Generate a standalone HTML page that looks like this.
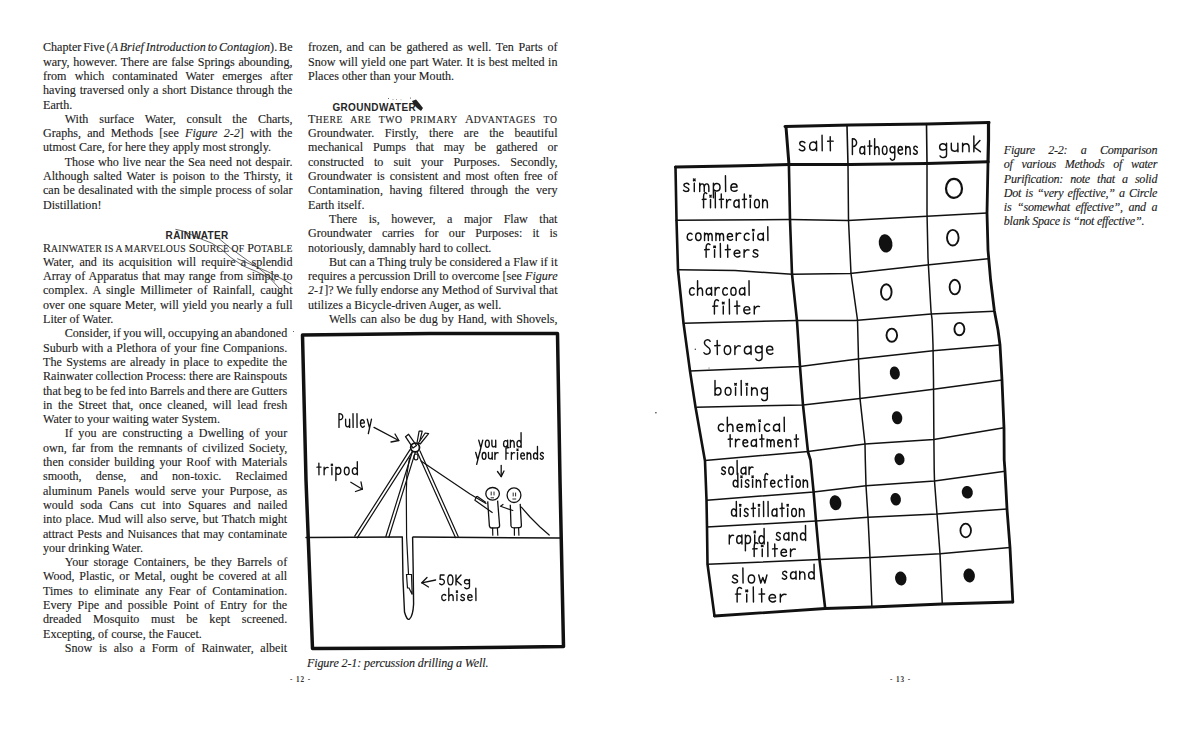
<!DOCTYPE html>
<html><head><meta charset="utf-8"><style>
html,body{margin:0;padding:0;background:#fff;}
body{width:1200px;height:729px;position:relative;overflow:hidden;}
.ln{position:absolute;font-family:"Liberation Serif",serif;font-size:12.1px;line-height:14.3px;height:14.3px;color:#222;white-space:nowrap;-webkit-text-stroke:0.12px #222;}
.j{text-align:justify;text-align-last:justify;white-space:normal;}
.l{text-align:left;}
.it{font-style:italic;}
.cap{letter-spacing:-0.25px;}
.sc small{font-size:0.8em;letter-spacing:0.02em;}
.sc2 small{font-size:0.8em;letter-spacing:0.06em;}
.hd{position:absolute;font-family:"Liberation Sans",sans-serif;font-weight:bold;font-size:10px;color:#262626;white-space:nowrap;letter-spacing:0.35px;}
.pn{position:absolute;font-family:"Liberation Serif",serif;font-size:7.2px;font-weight:bold;letter-spacing:0.9px;color:#333;white-space:nowrap;}
svg{position:absolute;left:0;top:0;}
svg text{font-family:"Liberation Sans",sans-serif;fill:#111;}
</style></head><body>
<div class="ln" style="left:43.00px;top:40.37px;word-spacing:-1.116px">Chapter Five (<i>A Brief Introduction to Contagion</i>). Be</div>
<div class="ln" style="left:43.00px;top:54.67px;word-spacing:0.721px">wary, however. There are false Springs abounding,</div>
<div class="ln" style="left:43.00px;top:68.97px;word-spacing:5.119px">from which contaminated Water emerges after</div>
<div class="ln" style="left:43.00px;top:83.27px;word-spacing:0.761px">having traversed only a short Distance through the</div>
<div class="ln" style="left:43.00px;top:97.57px">Earth.</div>
<div class="ln" style="left:64.70px;top:111.87px;word-spacing:7.773px">With surface Water, consult the Charts,</div>
<div class="ln" style="left:43.00px;top:126.17px;word-spacing:3.172px">Graphs, and Methods [see <i>Figure 2-2</i>] with the</div>
<div class="ln" style="left:43.00px;top:140.47px">utmost Care, for here they apply most strongly.</div>
<div class="ln" style="left:64.70px;top:154.77px;word-spacing:0.809px">Those who live near the Sea need not despair.</div>
<div class="ln" style="left:43.00px;top:169.07px;word-spacing:1.859px">Although salted Water is poison to the Thirsty, it</div>
<div class="ln" style="left:43.00px;top:183.37px;word-spacing:0.541px">can be desalinated with the simple process of solar</div>
<div class="ln" style="left:43.00px;top:197.67px">Distillation!</div>
<div class="ln" style="left:43.00px;top:240.57px;word-spacing:-0.133px"><span class="sc">R<small>AINWATER IS A MARVELOUS</small> S<small>OURCE OF</small> P<small>OTABLE</small></span></div>
<div class="ln" style="left:43.00px;top:254.87px;word-spacing:2.266px">Water, and its acquisition will require a splendid</div>
<div class="ln" style="left:43.00px;top:269.17px;word-spacing:0.877px">Array of Apparatus that may range from simple to</div>
<div class="ln" style="left:43.00px;top:283.47px;word-spacing:2.398px">complex. A single Millimeter of Rainfall, caught</div>
<div class="ln" style="left:43.00px;top:297.77px;word-spacing:0.760px">over one square Meter, will yield you nearly a full</div>
<div class="ln" style="left:43.00px;top:312.07px">Liter of Water.</div>
<div class="ln" style="left:64.70px;top:326.37px;word-spacing:-0.565px">Consider, if you will, occupying an abandoned</div>
<div class="ln" style="left:43.00px;top:340.67px;word-spacing:0.814px">Suburb with a Plethora of your fine Companions.</div>
<div class="ln" style="left:43.00px;top:354.97px;word-spacing:1.308px">The Systems are already in place to expedite the</div>
<div class="ln" style="left:43.00px;top:369.27px;word-spacing:-0.260px">Rainwater collection Process: there are Rainspouts</div>
<div class="ln" style="left:43.00px;top:383.57px;word-spacing:-0.363px">that beg to be fed into Barrels and there are Gutters</div>
<div class="ln" style="left:43.00px;top:397.87px;word-spacing:2.568px">in the Street that, once cleaned, will lead fresh</div>
<div class="ln" style="left:43.00px;top:412.17px">Water to your waiting water System.</div>
<div class="ln" style="left:64.70px;top:426.47px;word-spacing:2.567px">If you are constructing a Dwelling of your</div>
<div class="ln" style="left:43.00px;top:440.77px;word-spacing:1.846px">own, far from the remnants of civilized Society,</div>
<div class="ln" style="left:43.00px;top:455.07px;word-spacing:1.736px">then consider building your Roof with Materials</div>
<div class="ln" style="left:43.00px;top:469.37px;word-spacing:11.089px">smooth, dense, and non-toxic. Reclaimed</div>
<div class="ln" style="left:43.00px;top:483.67px;word-spacing:2.575px">aluminum Panels would serve your Purpose, as</div>
<div class="ln" style="left:43.00px;top:497.97px;word-spacing:3.935px">would soda Cans cut into Squares and nailed</div>
<div class="ln" style="left:43.00px;top:512.27px;word-spacing:0.744px">into place. Mud will also serve, but Thatch might</div>
<div class="ln" style="left:43.00px;top:526.57px;word-spacing:0.958px">attract Pests and Nuisances that may contaminate</div>
<div class="ln" style="left:43.00px;top:540.87px">your drinking Water.</div>
<div class="ln" style="left:64.70px;top:555.17px;word-spacing:2.188px">Your storage Containers, be they Barrels of</div>
<div class="ln" style="left:43.00px;top:569.47px;word-spacing:1.720px">Wood, Plastic, or Metal, ought be covered at all</div>
<div class="ln" style="left:43.00px;top:583.77px;word-spacing:2.986px">Times to eliminate any Fear of Contamination.</div>
<div class="ln" style="left:43.00px;top:598.07px;word-spacing:2.646px">Every Pipe and possible Point of Entry for the</div>
<div class="ln" style="left:43.00px;top:612.37px;word-spacing:8.671px">dreaded Mosquito must be kept screened.</div>
<div class="ln" style="left:43.00px;top:626.67px">Excepting, of course, the Faucet.</div>
<div class="ln" style="left:64.70px;top:640.97px;word-spacing:3.641px">Snow is also a Form of Rainwater, albeit</div>
<div class="ln" style="left:308.00px;top:40.37px;word-spacing:1.686px">frozen, and can be gathered as well. Ten Parts of</div>
<div class="ln" style="left:308.00px;top:54.67px;word-spacing:0.448px">Snow will yield one part Water. It is best melted in</div>
<div class="ln" style="left:308.00px;top:68.97px">Places other than your Mouth.</div>
<div class="ln" style="left:308.00px;top:111.87px;word-spacing:4.734px"><span class="sc2">T<small>HERE ARE TWO PRIMARY</small> A<small>DVANTAGES TO</small></span></div>
<div class="ln" style="left:308.00px;top:126.17px;word-spacing:7.541px">Groundwater. Firstly, there are the beautiful</div>
<div class="ln" style="left:308.00px;top:140.47px;word-spacing:6.880px">mechanical Pumps that may be gathered or</div>
<div class="ln" style="left:308.00px;top:154.77px;word-spacing:7.128px">constructed to suit your Purposes. Secondly,</div>
<div class="ln" style="left:308.00px;top:169.07px;word-spacing:1.913px">Groundwater is consistent and most often free of</div>
<div class="ln" style="left:308.00px;top:183.37px;word-spacing:3.550px">Contamination, having filtered through the very</div>
<div class="ln" style="left:308.00px;top:197.67px">Earth itself.</div>
<div class="ln" style="left:329.00px;top:211.97px;word-spacing:8.497px">There is, however, a major Flaw that</div>
<div class="ln" style="left:308.00px;top:226.27px;word-spacing:7.214px">Groundwater carries for our Purposes: it is</div>
<div class="ln" style="left:308.00px;top:240.57px">notoriously, damnably hard to collect.</div>
<div class="ln" style="left:329.00px;top:254.87px;word-spacing:-0.034px">But can a Thing truly be considered a Flaw if it</div>
<div class="ln" style="left:308.00px;top:269.17px;word-spacing:0.060px">requires a percussion Drill to overcome [see <i>Figure</i></div>
<div class="ln" style="left:308.00px;top:283.47px;word-spacing:-0.066px"><i>2-1</i>]? We fully endorse any Method of Survival that</div>
<div class="ln" style="left:308.00px;top:297.77px">utilizes a Bicycle-driven Auger, as well.</div>
<div class="ln" style="left:329.00px;top:312.07px;word-spacing:0.889px">Wells can also be dug by Hand, with Shovels,</div>
<div class="ln it cap" style="left:1003.80px;top:142.97px;word-spacing:10.618px">Figure 2-2: a Comparison</div>
<div class="ln it cap" style="left:1003.80px;top:157.27px;word-spacing:5.940px">of various Methods of water</div>
<div class="ln it cap" style="left:1003.80px;top:171.57px;word-spacing:4.342px">Purification: note that a solid</div>
<div class="ln it cap" style="left:1003.80px;top:185.87px;word-spacing:1.386px">Dot is “very effective,” a Circle</div>
<div class="ln it cap" style="left:1003.80px;top:200.17px;word-spacing:2.854px">is “somewhat effective”, and a</div>
<div class="ln it cap" style="left:1003.80px;top:214.47px">blank Space is “not effective”.</div>


<div class="hd" style="left:165.6px;top:230px;">RAINWATER</div>
<div class="hd" style="left:332.4px;top:101.8px;">GROUNDWATER</div>
<div class="ln l it" style="left:306.9px;top:655.97px;letter-spacing:-0.12px">Figure 2-1: percussion drilling a Well.</div>
<div class="pn" style="left:290px;top:675.5px;">- 12 -</div>
<div class="pn" style="left:890px;top:675.5px;">- 13 -</div>
<svg width="1200" height="729" viewBox="0 0 1200 729">
<polyline points="785,126.5 850,125 927,124 989,122.5" fill="none" stroke="#111" stroke-width="3" stroke-linejoin="round" stroke-linecap="round"/><polyline points="786,127 787.5,146 789,165" fill="none" stroke="#111" stroke-width="3" stroke-linejoin="round" stroke-linecap="round"/><polyline points="988.5,122.5 988.5,140 988,162" fill="none" stroke="#111" stroke-width="3.2" stroke-linejoin="round" stroke-linecap="round"/><polyline points="675.5,167 730,166 789,164.6 850,164.5 927,163.5 988,161.8" fill="none" stroke="#111" stroke-width="3" stroke-linejoin="round" stroke-linecap="round"/><polyline points="847,126 848,165" fill="none" stroke="#111" stroke-width="1.6" stroke-linejoin="round" stroke-linecap="round"/><polyline points="926.5,124 927,163" fill="none" stroke="#111" stroke-width="1.6" stroke-linejoin="round" stroke-linecap="round"/><polyline points="675.5,167 676.5,220 678,270 683.5,323 690,371 695.5,407 705,461 706.5,500 707,527 707.5,564 714.5,616" fill="none" stroke="#111" stroke-width="2.6" stroke-linejoin="round" stroke-linecap="round"/><polyline points="788.9,164.6 790,219.5 792,274 797,321 800,366.6 803,405 808,452 810.5,460 813.6,492 816,521 819.5,559.6 825.2,608.5" fill="none" stroke="#111" stroke-width="2.6" stroke-linejoin="round" stroke-linecap="round"/><polyline points="848,165 848.5,220 851,273.5 857.5,320 858.5,359 860,398.6 865,444 865.3,460 866,485.7 868,517 870,557.5 871.9,607" fill="none" stroke="#111" stroke-width="1.5" stroke-linejoin="round" stroke-linecap="round"/><polyline points="927,163 927,213 928,258 931,311 932.1,320 933,345 933.5,380 933.8,428 934.2,470 934.5,481 937,514 940,553.8 942.3,604" fill="none" stroke="#111" stroke-width="1.5" stroke-linejoin="round" stroke-linecap="round"/><polyline points="988,162 987,213 988,250 990.6,280 994.4,311 998,330 1000,345 1002,380 1004,428 1004.2,460 1005,471 1007,509 1010,547.5 1012.8,602" fill="none" stroke="#111" stroke-width="2.8" stroke-linejoin="round" stroke-linecap="round"/><polyline points="676,220.2 790,219.5 848,220.4 927,216.2 987,213" fill="none" stroke="#111" stroke-width="1.5" stroke-linejoin="round" stroke-linecap="round"/><polyline points="678,269.7 735,270.5 792,274.3 850,273.5 927,265 988,258.7" fill="none" stroke="#111" stroke-width="1.5" stroke-linejoin="round" stroke-linecap="round"/><polyline points="683.5,323.3 797,320.5 855,320.5 931,314 994.4,311.2" fill="none" stroke="#111" stroke-width="1.5" stroke-linejoin="round" stroke-linecap="round"/><polyline points="690,371 800,366.6 858,359 933,350.8 1000,345" fill="none" stroke="#111" stroke-width="1.5" stroke-linejoin="round" stroke-linecap="round"/><polyline points="695.5,407.2 803,405 860,398.6 933.5,389.3 1002,380" fill="none" stroke="#111" stroke-width="1.5" stroke-linejoin="round" stroke-linecap="round"/><polyline points="705,460.5 808,451.5 865,444 933.8,439.4 1004,427.7" fill="none" stroke="#111" stroke-width="1.5" stroke-linejoin="round" stroke-linecap="round"/><polyline points="706.8,500.2 813.6,492 866,485.7 934.5,481 1005,471.2" fill="none" stroke="#111" stroke-width="1.5" stroke-linejoin="round" stroke-linecap="round"/><polyline points="706.8,527 816,521 868,517.2 937,514.1 1007,509" fill="none" stroke="#111" stroke-width="1.5" stroke-linejoin="round" stroke-linecap="round"/><polyline points="707.5,564.3 819.5,559.6 870,557.5 940,553.8 1010,547.5" fill="none" stroke="#111" stroke-width="1.5" stroke-linejoin="round" stroke-linecap="round"/><polyline points="714.5,616 825.2,608.5 871.9,607 942.3,604 1012.8,602" fill="none" stroke="#111" stroke-width="2.8" stroke-linejoin="round" stroke-linecap="round"/>
<ellipse cx="954" cy="188.4" rx="8" ry="9.5" fill="none" stroke="#111" stroke-width="2.2"/><ellipse cx="885.6" cy="243.4" rx="6.8" ry="9.2" fill="#111" transform="rotate(-10 885.6 243.4)"/><ellipse cx="952.8" cy="237.7" rx="5.8" ry="7.8" fill="none" stroke="#111" stroke-width="1.9"/><ellipse cx="886.3" cy="292" rx="5.3" ry="7.8" fill="none" stroke="#111" stroke-width="1.9"/><ellipse cx="954.8" cy="287.1" rx="5.2" ry="7.3" fill="none" stroke="#111" stroke-width="1.9"/><ellipse cx="891.8" cy="335.2" rx="5.3" ry="6.6" fill="none" stroke="#111" stroke-width="1.9"/><ellipse cx="959.4" cy="329.1" rx="5" ry="6.2" fill="none" stroke="#111" stroke-width="1.9"/><ellipse cx="894.8" cy="373" rx="5" ry="6.6" fill="#111" transform="rotate(-10 894.8 373)"/><ellipse cx="897.1" cy="417.7" rx="5.2" ry="6.6" fill="#111" transform="rotate(-10 897.1 417.7)"/><ellipse cx="899.5" cy="459.2" rx="5" ry="6" fill="#111" transform="rotate(-10 899.5 459.2)"/><ellipse cx="835.5" cy="502.7" rx="5.8" ry="7.5" fill="#111" transform="rotate(-10 835.5 502.7)"/><ellipse cx="895.7" cy="499.2" rx="5.2" ry="6.3" fill="#111" transform="rotate(-10 895.7 499.2)"/><ellipse cx="967.3" cy="492.2" rx="5.5" ry="6.3" fill="#111" transform="rotate(-10 967.3 492.2)"/><ellipse cx="965.7" cy="530.5" rx="5.3" ry="6.8" fill="none" stroke="#111" stroke-width="1.8"/><ellipse cx="900.8" cy="578.5" rx="5.7" ry="7" fill="#111" transform="rotate(-10 900.8 578.5)"/><ellipse cx="969.2" cy="575.5" rx="5.7" ry="7" fill="#111" transform="rotate(-10 969.2 575.5)"/>
<path d="M 804.88,142.73 C 803.59,140.92 799.73,140.92 799.73,143.68 C 799.73,146.53 804.88,145.58 804.88,148.43 C 804.88,151.28 800.59,151.28 799.30,149.38 M 816.46,144.15 C 814.75,140.92 809.60,141.30 809.60,146.53 C 809.60,151.28 814.75,151.28 816.46,147.48 M 816.46,141.30 L 816.64,150.80 M 822.04,135.22 L 822.21,150.80 M 830.20,136.74 L 830.37,150.80 M 827.62,141.30 L 833.20,141.15" fill="none" stroke="#111" stroke-width="1.45" stroke-linecap="round" stroke-linejoin="round"/><path d="M 852.40,154.40 L 852.40,138.80 C 858.03,138.34 858.03,147.34 852.40,146.52 M 864.55,148.59 C 863.37,145.64 859.81,146.10 859.81,150.66 C 859.81,154.81 863.37,154.81 864.55,151.50 M 864.55,146.10 L 864.67,154.40 M 869.59,140.62 L 869.71,154.40 M 867.81,146.10 L 871.66,145.92 M 874.63,138.80 L 874.63,154.40 M 874.63,149.42 C 875.81,145.64 879.07,145.64 879.07,150.25 L 879.07,154.40 M 884.70,146.10 C 887.79,146.10 887.79,154.40 884.70,154.40 C 881.62,154.40 881.62,146.10 884.70,146.10 Z M 894.78,149.42 C 893.59,145.19 890.04,146.10 890.04,149.84 C 890.04,153.57 893.59,153.57 894.78,151.08 M 894.78,146.10 L 894.78,157.31 C 894.78,160.62 891.22,161.04 890.33,158.55 M 898.16,150.25 L 902.49,149.84 C 902.49,145.64 898.04,145.19 898.04,150.25 C 898.04,154.81 901.30,154.81 902.49,153.16 M 905.75,146.10 L 905.75,154.40 M 905.75,149.42 C 906.63,145.64 910.19,145.64 910.19,150.25 L 910.19,154.40 M 917.30,147.34 C 916.41,145.64 913.75,145.64 913.75,148.18 C 913.75,150.66 917.30,149.84 917.30,152.33 C 917.30,154.81 914.34,154.81 913.45,153.16" fill="none" stroke="#111" stroke-width="1.45" stroke-linecap="round" stroke-linejoin="round"/><path d="M 946.54,146.60 C 944.80,142.30 939.60,143.20 939.60,147.02 C 939.60,150.85 944.80,150.85 946.54,148.30 M 946.54,143.20 L 946.54,154.67 C 946.54,158.07 941.33,158.50 940.03,155.95 M 951.31,143.20 L 951.31,148.30 C 951.31,152.12 957.38,152.12 957.81,148.72 M 957.81,143.20 L 957.99,151.70 M 962.59,143.20 L 962.59,151.70 M 962.59,146.60 C 963.89,142.75 969.09,142.75 969.09,147.45 L 969.09,151.70 M 973.86,135.99 L 973.86,151.70 M 979.93,140.50 L 974.03,147.02 L 980.37,151.70" fill="none" stroke="#111" stroke-width="1.45" stroke-linecap="round" stroke-linejoin="round"/><path d="M 688.90,184.53 C 687.65,182.83 683.92,182.83 683.92,185.35 C 683.92,187.81 688.90,186.99 688.90,189.45 C 688.90,191.91 684.75,191.91 683.50,190.27 M 694.30,183.30 L 694.30,191.50 M 693.47,179.06 L 695.13,180.66 M 695.13,179.06 L 693.47,180.66 M 699.70,183.30 L 699.70,191.50 M 699.70,186.58 C 700.53,182.83 704.27,182.83 704.27,187.40 L 704.27,191.50 M 704.27,186.58 C 705.10,182.83 708.84,182.83 708.84,187.40 L 708.84,191.50 M 713.41,183.30 L 713.41,197.65 M 713.41,186.58 C 714.24,182.36 720.05,182.36 720.05,187.40 C 720.05,191.91 714.24,191.91 713.41,189.04 M 725.45,175.76 L 725.62,191.50 M 731.02,187.40 L 737.08,186.99 C 737.08,182.83 730.85,182.36 730.85,187.40 C 730.85,191.91 735.42,191.91 737.08,190.27" fill="none" stroke="#111" stroke-width="1.45" stroke-linecap="round" stroke-linejoin="round"/><path d="M 706.72,193.57 C 705.14,191.74 703.56,192.65 703.56,196.76 L 703.56,207.80 M 702.30,199.50 L 706.09,199.32 M 710.51,199.50 L 710.51,207.80 M 709.88,195.39 L 711.15,196.94 M 711.15,195.39 L 709.88,196.94 M 715.25,192.20 L 715.38,207.80 M 721.26,194.02 L 721.38,207.80 M 719.36,199.50 L 723.47,199.32 M 726.63,199.50 L 726.63,207.80 M 726.63,203.24 C 727.58,199.92 729.16,199.04 730.73,199.92 M 738.95,201.99 C 737.69,199.04 733.89,199.50 733.89,204.06 C 733.89,208.22 737.69,208.22 738.95,204.90 M 738.95,199.50 L 739.08,207.80 M 744.32,194.02 L 744.45,207.80 M 742.42,199.50 L 746.53,199.32 M 750.32,199.50 L 750.32,207.80 M 749.69,195.39 L 750.96,196.94 M 750.96,195.39 L 749.69,196.94 M 756.96,199.50 C 760.24,199.50 760.24,207.80 756.96,207.80 C 753.67,207.80 753.67,199.50 756.96,199.50 Z M 762.64,199.50 L 762.64,207.80 M 762.64,202.82 C 763.59,199.04 767.38,199.04 767.38,203.65 L 767.38,207.80" fill="none" stroke="#111" stroke-width="1.45" stroke-linecap="round" stroke-linejoin="round"/><path d="M 692.02,234.12 C 690.65,232.61 687.20,233.00 687.20,236.75 C 687.20,240.88 690.65,240.88 692.02,239.38 M 698.36,233.00 C 701.95,233.00 701.95,240.50 698.36,240.50 C 694.78,240.50 694.78,233.00 698.36,233.00 Z M 704.57,233.00 L 704.57,240.50 M 704.57,236.00 C 705.26,232.61 708.36,232.61 708.36,236.75 L 708.36,240.50 M 708.36,236.00 C 709.05,232.61 712.15,232.61 712.15,236.75 L 712.15,240.50 M 715.94,233.00 L 715.94,240.50 M 715.94,236.00 C 716.63,232.61 719.73,232.61 719.73,236.75 L 719.73,240.50 M 719.73,236.00 C 720.42,232.61 723.52,232.61 723.52,236.75 L 723.52,240.50 M 727.45,236.75 L 732.48,236.38 C 732.48,232.61 727.31,232.21 727.31,236.75 C 727.31,240.88 731.10,240.88 732.48,239.38 M 736.27,233.00 L 736.27,240.50 M 736.27,236.38 C 737.30,233.38 739.03,232.61 740.75,233.38 M 749.02,234.12 C 747.64,232.61 744.20,233.00 744.20,236.75 C 744.20,240.88 747.64,240.88 749.02,239.38 M 753.29,233.00 L 753.29,240.50 M 752.60,229.46 L 753.98,230.79 M 753.98,229.46 L 752.60,230.79 M 763.29,235.25 C 761.91,232.61 757.77,233.00 757.77,237.12 C 757.77,240.88 761.91,240.88 763.29,237.88 M 763.29,233.00 L 763.42,240.50 M 767.77,226.70 L 767.90,240.50" fill="none" stroke="#111" stroke-width="1.45" stroke-linecap="round" stroke-linejoin="round"/><path d="M 709.97,244.58 C 708.05,243.01 706.13,243.79 706.13,247.34 L 706.13,257.20 M 704.60,249.70 L 709.20,249.54 M 714.57,249.70 L 714.57,257.20 M 713.81,246.16 L 715.34,247.49 M 715.34,246.16 L 713.81,247.49 M 720.33,243.40 L 720.48,257.20 M 727.61,244.97 L 727.77,257.20 M 725.31,249.70 L 730.30,249.54 M 734.29,253.45 L 739.89,253.07 C 739.89,249.31 734.13,248.91 734.13,253.45 C 734.13,257.57 738.35,257.57 739.89,256.07 M 744.11,249.70 L 744.11,257.20 M 744.11,253.07 C 745.26,250.07 747.18,249.31 749.09,250.07 M 757.92,250.82 C 756.77,249.31 753.31,249.31 753.31,251.57 C 753.31,253.82 757.92,253.07 757.92,255.32 C 757.92,257.57 754.08,257.57 752.93,256.07" fill="none" stroke="#111" stroke-width="1.45" stroke-linecap="round" stroke-linejoin="round"/><path d="M 694.13,288.67 C 692.81,287.07 689.50,287.50 689.50,291.40 C 689.50,295.69 692.81,295.69 694.13,294.13 M 697.58,280.64 L 697.58,295.30 M 697.58,290.62 C 698.90,287.07 702.54,287.07 702.54,291.40 L 702.54,295.30 M 711.48,289.84 C 710.15,287.07 706.18,287.50 706.18,291.79 C 706.18,295.69 710.15,295.69 711.48,292.57 M 711.48,287.50 L 711.61,295.30 M 715.12,287.50 L 715.12,295.30 M 715.12,291.01 C 716.11,287.89 717.76,287.07 719.42,287.89 M 727.36,288.67 C 726.04,287.07 722.73,287.50 722.73,291.40 C 722.73,295.69 726.04,295.69 727.36,294.13 M 733.45,287.50 C 736.89,287.50 736.89,295.30 733.45,295.30 C 730.01,295.30 730.01,287.50 733.45,287.50 Z M 744.70,289.84 C 743.38,287.07 739.41,287.50 739.41,291.79 C 739.41,295.69 743.38,295.69 744.70,292.57 M 744.70,287.50 L 744.84,295.30 M 749.01,280.64 L 749.14,295.30" fill="none" stroke="#111" stroke-width="1.45" stroke-linecap="round" stroke-linejoin="round"/><path d="M 718.44,300.62 C 716.42,298.91 714.41,299.76 714.41,303.63 L 714.41,314.00 M 712.80,306.20 L 717.63,306.03 M 723.27,306.20 L 723.27,314.00 M 722.46,302.34 L 724.07,303.80 M 724.07,302.34 L 722.46,303.80 M 729.31,299.34 L 729.47,314.00 M 736.96,301.05 L 737.12,314.00 M 734.54,306.20 L 739.77,306.03 M 743.96,310.10 L 749.84,309.71 C 749.84,305.77 743.80,305.34 743.80,310.10 C 743.80,314.39 748.23,314.39 749.84,312.83 M 754.27,306.20 L 754.27,314.00 M 754.27,309.71 C 755.47,306.59 757.49,305.77 759.50,306.59" fill="none" stroke="#111" stroke-width="1.45" stroke-linecap="round" stroke-linejoin="round"/><path d="M 710.18,341.30 C 708.94,339.10 704.41,339.10 704.41,343.06 C 704.41,347.02 710.18,346.14 710.18,350.54 C 710.18,354.94 705.24,354.94 704.00,352.74 M 717.18,340.42 L 717.35,354.50 M 714.71,345.70 L 720.06,345.52 M 727.48,345.70 C 731.76,345.70 731.76,354.50 727.48,354.50 C 723.19,354.50 723.19,345.70 727.48,345.70 Z M 734.89,345.70 L 734.89,354.50 M 734.89,349.66 C 736.13,346.14 738.19,345.26 740.25,346.14 M 750.96,348.34 C 749.31,345.26 744.37,345.70 744.37,350.54 C 744.37,354.94 749.31,354.94 750.96,351.42 M 750.96,345.70 L 751.12,354.50 M 762.08,349.22 C 760.43,344.82 755.49,345.70 755.49,349.66 C 755.49,353.62 760.43,353.62 762.08,350.98 M 762.08,345.70 L 762.08,357.58 C 762.08,361.10 757.14,361.54 755.90,358.90 M 766.77,350.10 L 772.79,349.66 C 772.79,345.26 766.61,344.82 766.61,350.10 C 766.61,354.94 771.14,354.94 772.79,353.18" fill="none" stroke="#111" stroke-width="1.45" stroke-linecap="round" stroke-linejoin="round"/><path d="M 715.00,380.54 L 715.00,395.20 M 715.00,391.30 C 715.75,386.54 720.98,386.54 720.98,391.30 C 720.98,395.98 715.75,395.98 715.00,392.86 M 728.08,387.40 C 731.97,387.40 731.97,395.20 728.08,395.20 C 724.19,395.20 724.19,387.40 728.08,387.40 Z M 735.56,387.40 L 735.56,395.20 M 734.81,383.54 L 736.30,385.00 M 736.30,383.54 L 734.81,385.00 M 741.16,380.54 L 741.31,395.20 M 746.77,387.40 L 746.77,395.20 M 746.02,383.54 L 747.52,385.00 M 747.52,383.54 L 746.02,385.00 M 751.63,387.40 L 751.63,395.20 M 751.63,390.52 C 752.75,386.97 757.23,386.97 757.23,391.30 L 757.23,395.20 M 767.33,390.52 C 765.83,386.54 761.35,387.40 761.35,390.91 C 761.35,394.42 765.83,394.42 767.33,392.08 M 767.33,387.40 L 767.33,397.93 C 767.33,401.05 762.84,401.44 761.72,399.10" fill="none" stroke="#111" stroke-width="1.45" stroke-linecap="round" stroke-linejoin="round"/><path d="M 723.49,424.94 C 722.01,423.38 718.30,423.80 718.30,427.60 C 718.30,431.78 722.01,431.78 723.49,430.26 M 727.34,417.11 L 727.34,431.40 M 727.34,426.84 C 728.82,423.38 732.90,423.38 732.90,427.60 L 732.90,431.40 M 737.13,427.60 L 742.54,427.22 C 742.54,423.38 736.98,422.96 736.98,427.60 C 736.98,431.78 741.05,431.78 742.54,430.26 M 746.61,423.80 L 746.61,431.40 M 746.61,426.84 C 747.35,423.38 750.69,423.38 750.69,427.60 L 750.69,431.40 M 750.69,426.84 C 751.43,423.38 754.76,423.38 754.76,427.60 L 754.76,431.40 M 759.58,423.80 L 759.58,431.40 M 758.84,420.04 L 760.32,421.46 M 760.32,420.04 L 758.84,421.46 M 769.59,424.94 C 768.11,423.38 764.40,423.80 764.40,427.60 C 764.40,431.78 768.11,431.78 769.59,430.26 M 779.37,426.08 C 777.89,423.38 773.44,423.80 773.44,427.98 C 773.44,431.78 777.89,431.78 779.37,428.74 M 779.37,423.80 L 779.52,431.40 M 784.19,417.11 L 784.34,431.40" fill="none" stroke="#111" stroke-width="1.45" stroke-linecap="round" stroke-linejoin="round"/><path d="M 730.12,434.64 L 730.25,446.80 M 728.20,439.20 L 732.35,439.05 M 735.55,439.20 L 735.55,446.80 M 735.55,442.62 C 736.51,439.58 738.11,438.82 739.70,439.58 M 743.03,443.00 L 747.69,442.62 C 747.69,438.82 742.90,438.44 742.90,443.00 C 742.90,447.18 746.41,447.18 747.69,445.66 M 756.32,441.48 C 755.04,438.82 751.21,439.20 751.21,443.38 C 751.21,447.18 755.04,447.18 756.32,444.14 M 756.32,439.20 L 756.45,446.80 M 761.75,434.64 L 761.88,446.80 M 759.84,439.20 L 763.99,439.05 M 767.18,439.20 L 767.18,446.80 M 767.18,442.24 C 767.82,438.82 770.70,438.82 770.70,443.00 L 770.70,446.80 M 770.70,442.24 C 771.34,438.82 774.21,438.82 774.21,443.00 L 774.21,446.80 M 777.86,443.00 L 782.52,442.62 C 782.52,438.82 777.73,438.44 777.73,443.00 C 777.73,447.18 781.24,447.18 782.52,445.66 M 786.04,439.20 L 786.04,446.80 M 786.04,442.24 C 787.00,438.82 790.83,438.82 790.83,443.00 L 790.83,446.80 M 796.26,434.64 L 796.39,446.80 M 794.35,439.20 L 798.50,439.05" fill="none" stroke="#111" stroke-width="1.45" stroke-linecap="round" stroke-linejoin="round"/><path d="M 725.40,468.12 C 724.50,466.59 721.80,466.59 721.80,468.88 C 721.80,471.12 725.40,470.38 725.40,472.62 C 725.40,474.88 722.40,474.88 721.50,473.38 M 731.10,467.00 C 734.22,467.00 734.22,474.50 731.10,474.50 C 727.98,474.50 727.98,467.00 731.10,467.00 Z M 737.10,460.40 L 737.22,474.50 M 745.80,469.25 C 744.60,466.59 741.00,467.00 741.00,471.12 C 741.00,474.88 744.60,474.88 745.80,471.88 M 745.80,467.00 L 745.92,474.50 M 749.10,467.00 L 749.10,474.50 M 749.10,470.38 C 750.00,467.38 751.50,466.59 753.00,467.38" fill="none" stroke="#111" stroke-width="1.45" stroke-linecap="round" stroke-linejoin="round"/><path d="M 737.77,473.20 L 737.88,487.30 M 737.77,482.80 C 736.62,478.98 733.20,479.80 733.20,483.55 C 733.20,487.68 736.62,487.68 737.77,485.05 M 741.48,479.80 L 741.48,487.30 M 740.91,476.09 L 742.05,477.49 M 742.05,476.09 L 740.91,477.49 M 748.90,480.93 C 748.04,479.39 745.47,479.39 745.47,481.68 C 745.47,483.93 748.90,483.18 748.90,485.43 C 748.90,487.68 746.04,487.68 745.19,486.18 M 752.61,479.80 L 752.61,487.30 M 752.04,476.09 L 753.18,477.49 M 753.18,476.09 L 752.04,477.49 M 756.32,479.80 L 756.32,487.30 M 756.32,482.80 C 757.17,479.39 760.60,479.39 760.60,483.55 L 760.60,487.30 M 767.73,474.44 C 766.30,472.79 764.88,473.61 764.88,477.32 L 764.88,487.30 M 763.74,479.80 L 767.16,479.63 M 770.70,483.55 L 774.87,483.18 C 774.87,479.39 770.59,478.98 770.59,483.55 C 770.59,487.68 773.72,487.68 774.87,486.18 M 782.00,480.93 C 780.86,479.39 778.01,479.80 778.01,483.55 C 778.01,487.68 780.86,487.68 782.00,486.18 M 786.68,474.85 L 786.80,487.30 M 784.97,479.80 L 788.68,479.63 M 792.10,479.80 L 792.10,487.30 M 791.53,476.09 L 792.67,477.49 M 792.67,476.09 L 791.53,477.49 M 798.10,479.80 C 801.06,479.80 801.06,487.30 798.10,487.30 C 795.13,487.30 795.13,479.80 798.10,479.80 Z M 803.23,479.80 L 803.23,487.30 M 803.23,482.80 C 804.09,479.39 807.51,479.39 807.51,483.55 L 807.51,487.30" fill="none" stroke="#111" stroke-width="1.45" stroke-linecap="round" stroke-linejoin="round"/><path d="M 736.33,501.46 L 736.45,516.50 M 736.33,511.70 C 735.12,507.62 731.50,508.50 731.50,512.50 C 731.50,516.90 735.12,516.90 736.33,514.10 M 740.26,508.50 L 740.26,516.50 M 739.66,504.54 L 740.86,506.04 M 740.86,504.54 L 739.66,506.04 M 748.11,509.70 C 747.21,508.06 744.49,508.06 744.49,510.50 C 744.49,512.90 748.11,512.10 748.11,514.50 C 748.11,516.90 745.09,516.90 744.19,515.30 M 753.25,503.22 L 753.37,516.50 M 751.44,508.50 L 755.36,508.32 M 758.99,508.50 L 758.99,516.50 M 758.38,504.54 L 759.59,506.04 M 759.59,504.54 L 758.38,506.04 M 763.52,501.46 L 763.64,516.50 M 768.05,501.46 L 768.17,516.50 M 776.81,510.90 C 775.60,508.06 771.98,508.50 771.98,512.90 C 771.98,516.90 775.60,516.90 776.81,513.70 M 776.81,508.50 L 776.93,516.50 M 781.95,503.22 L 782.07,516.50 M 780.13,508.50 L 784.06,508.32 M 787.69,508.50 L 787.69,516.50 M 787.08,504.54 L 788.29,506.04 M 788.29,504.54 L 787.08,506.04 M 794.03,508.50 C 797.17,508.50 797.17,516.50 794.03,516.50 C 790.89,516.50 790.89,508.50 794.03,508.50 Z M 799.47,508.50 L 799.47,516.50 M 799.47,511.70 C 800.37,508.06 804.00,508.06 804.00,512.50 L 804.00,516.50" fill="none" stroke="#111" stroke-width="1.45" stroke-linecap="round" stroke-linejoin="round"/><path d="M 729.30,535.00 L 729.30,544.00 M 729.30,539.05 C 730.27,535.45 731.88,534.60 733.49,535.45 M 741.86,537.70 C 740.57,534.60 736.71,535.00 736.71,539.95 C 736.71,544.45 740.57,544.45 741.86,540.85 M 741.86,535.00 L 741.99,544.00 M 745.40,535.00 L 745.40,550.75 M 745.40,538.60 C 746.04,534.19 750.55,534.19 750.55,539.50 C 750.55,544.45 746.04,544.45 745.40,541.30 M 754.74,535.00 L 754.74,544.00 M 754.10,531.36 L 755.38,532.73 M 755.38,531.36 L 754.10,532.73 M 764.08,528.52 L 764.21,544.00 M 764.08,538.60 C 762.79,534.19 758.93,535.00 758.93,539.50 C 758.93,544.45 762.79,544.45 764.08,541.30" fill="none" stroke="#111" stroke-width="1.45" stroke-linecap="round" stroke-linejoin="round"/><path d="M 780.29,533.60 C 779.35,531.96 776.51,531.96 776.51,534.40 C 776.51,536.80 780.29,536.00 780.29,538.40 C 780.29,540.80 777.14,540.80 776.20,539.20 M 788.80,534.80 C 787.54,531.96 783.76,532.40 783.76,536.80 C 783.76,540.80 787.54,540.80 788.80,537.60 M 788.80,532.40 L 788.92,540.40 M 792.26,532.40 L 792.26,540.40 M 792.26,535.60 C 793.20,531.96 796.98,531.96 796.98,536.40 L 796.98,540.40 M 805.49,525.36 L 805.61,540.40 M 805.49,535.60 C 804.23,531.52 800.45,532.40 800.45,536.40 C 800.45,540.80 804.23,540.80 805.49,538.00" fill="none" stroke="#111" stroke-width="1.45" stroke-linecap="round" stroke-linejoin="round"/><path d="M 757.84,543.54 C 756.01,541.89 754.17,542.71 754.17,546.42 L 754.17,556.40 M 752.70,548.90 L 757.11,548.74 M 762.25,548.90 L 762.25,556.40 M 761.51,545.19 L 762.98,546.59 M 762.98,545.19 L 761.51,546.59 M 767.76,542.30 L 767.90,556.40 M 774.73,543.95 L 774.88,556.40 M 772.53,548.90 L 777.31,548.74 M 781.12,552.65 L 786.49,552.27 C 786.49,548.49 780.98,548.07 780.98,552.65 C 780.98,556.77 785.02,556.77 786.49,555.27 M 790.53,548.90 L 790.53,556.40 M 790.53,552.27 C 791.63,549.27 793.46,548.49 795.30,549.27" fill="none" stroke="#111" stroke-width="1.45" stroke-linecap="round" stroke-linejoin="round"/><path d="M 737.59,576.20 C 736.37,574.56 732.71,574.56 732.71,577.00 C 732.71,579.40 737.59,578.60 737.59,581.00 C 737.59,583.40 733.52,583.40 732.30,581.80 M 742.88,567.96 L 743.05,583.00 M 751.43,575.00 C 755.67,575.00 755.67,583.00 751.43,583.00 C 747.20,583.00 747.20,575.00 751.43,575.00 Z M 758.76,575.00 L 760.79,583.00 L 762.83,577.40 L 764.86,583.00 L 766.90,575.00" fill="none" stroke="#111" stroke-width="1.45" stroke-linecap="round" stroke-linejoin="round"/><path d="M 786.74,572.50 C 785.71,570.86 782.64,570.86 782.64,573.30 C 782.64,575.70 786.74,574.90 786.74,577.30 C 786.74,579.70 783.32,579.70 782.30,578.10 M 795.96,573.70 C 794.59,570.86 790.50,571.30 790.50,575.70 C 790.50,579.70 794.59,579.70 795.96,576.50 M 795.96,571.30 L 796.10,579.30 M 799.72,571.30 L 799.72,579.30 M 799.72,574.50 C 800.74,570.86 804.84,570.86 804.84,575.30 L 804.84,579.30 M 814.06,564.26 L 814.20,579.30 M 814.06,574.50 C 812.69,570.42 808.59,571.30 808.59,575.30 C 808.59,579.70 812.69,579.70 814.06,576.90" fill="none" stroke="#111" stroke-width="1.45" stroke-linecap="round" stroke-linejoin="round"/><path d="M 741.51,588.38 C 739.33,586.62 737.14,587.50 737.14,591.46 L 737.14,602.10 M 735.40,594.10 L 740.63,593.92 M 746.74,594.10 L 746.74,602.10 M 745.87,590.14 L 747.61,591.64 M 747.61,590.14 L 745.87,591.64 M 753.28,587.06 L 753.46,602.10 M 761.57,588.82 L 761.75,602.10 M 758.96,594.10 L 764.63,593.92 M 769.16,598.10 L 775.53,597.70 C 775.53,593.66 768.99,593.22 768.99,598.10 C 768.99,602.50 773.79,602.50 775.53,600.90 M 780.33,594.10 L 780.33,602.10 M 780.33,597.70 C 781.64,594.50 783.82,593.66 786.00,594.50" fill="none" stroke="#111" stroke-width="1.45" stroke-linecap="round" stroke-linejoin="round"/>
<path d="M302.5,335 L430,333.5 L557.5,333.5 L560,480 L563.5,646.5 L440,648 L312.5,648.5 L306,480 Z" fill="none" stroke="#111" stroke-width="3.5" stroke-linejoin="round"/><polyline points="306,537.5 402.4,537 402.4,537" fill="none" stroke="#111" stroke-width="1.4" stroke-linejoin="round" stroke-linecap="round"/><polyline points="413,537 480,537.5 560,538" fill="none" stroke="#111" stroke-width="1.4" stroke-linejoin="round" stroke-linecap="round"/><path d="M402.3,537 L403,580 L404.5,612 Q407,621 409.5,619 Q413,616 413.6,604 L413.2,570 L412.6,537" fill="none" stroke="#111" stroke-width="1.4"/><polyline points="409.5,458 406.8,475 406.3,494 406.6,537 408.5,574" fill="none" stroke="#111" stroke-width="1.2" stroke-linejoin="round" stroke-linecap="round"/><path d="M406.5,574.5 L411.5,574.5 L412.2,594.5 L409,588 L407.5,588 Z" fill="none" stroke="#111" stroke-width="1.2"/><polyline points="410.03619503721325,449.69204145153634 354.73619503721324,536.1920414515363" fill="none" stroke="#111" stroke-width="1.2" stroke-linejoin="round" stroke-linecap="round"/><polyline points="412.5638049627868,451.30795854846366 357.26380496278676,537.8079585484637" fill="none" stroke="#111" stroke-width="1.2" stroke-linejoin="round" stroke-linecap="round"/><polyline points="412.5680421079009,450.9533495827214 385.8680421079009,536.5533495827215" fill="none" stroke="#111" stroke-width="1.2" stroke-linejoin="round" stroke-linecap="round"/><polyline points="415.4319578920991,451.84665041727857 388.7319578920991,537.4466504172785" fill="none" stroke="#111" stroke-width="1.2" stroke-linejoin="round" stroke-linecap="round"/><polyline points="417.1308040053469,452.0126192359254 455.4308040053469,537.6126192359254" fill="none" stroke="#111" stroke-width="1.2" stroke-linejoin="round" stroke-linecap="round"/><polyline points="419.8691959946531,450.78738076407456 458.16919599465314,536.3873807640746" fill="none" stroke="#111" stroke-width="1.2" stroke-linejoin="round" stroke-linecap="round"/><path d="M405.5,436.7 L408.6,434.3 L416.5,445.5 L413,448 Z" fill="#fff" stroke="#111" stroke-width="1.3" stroke-linejoin="round"/><path d="M419.1,431.2 L422.2,431.2 L419.2,443.5 L417,443 Z" fill="#fff" stroke="#111" stroke-width="1.2" stroke-linejoin="round"/><path d="M425.2,433 L428.6,433.6 L420.2,444 L418.5,443 Z" fill="#fff" stroke="#111" stroke-width="1.2" stroke-linejoin="round"/><circle cx="415.1" cy="447.5" r="4.4" fill="none" stroke="#111" stroke-width="1.8"/><ellipse cx="416" cy="457" rx="2" ry="3" fill="none" stroke="#111" stroke-width="1.1"/><polyline points="421,461 470,494 486,503.5" fill="none" stroke="#111" stroke-width="1.2" stroke-linejoin="round" stroke-linecap="round"/><polyline points="374,427.4 398.8,440.5" fill="none" stroke="#111" stroke-width="1.3" stroke-linejoin="round" stroke-linecap="round"/><polyline points="391,442 398.8,440.5 395,434" fill="none" stroke="#111" stroke-width="1.3" stroke-linejoin="round" stroke-linecap="round"/><polyline points="350.8,482.3 362.4,489.2" fill="none" stroke="#111" stroke-width="1.3" stroke-linejoin="round" stroke-linecap="round"/><polyline points="355.5,491.5 362.4,489.2 361,482" fill="none" stroke="#111" stroke-width="1.3" stroke-linejoin="round" stroke-linecap="round"/><polyline points="501.2,465.5 501.2,476.6" fill="none" stroke="#111" stroke-width="1.3" stroke-linejoin="round" stroke-linecap="round"/><polyline points="497.5,471.5 501.2,476.6 504,471" fill="none" stroke="#111" stroke-width="1.3" stroke-linejoin="round" stroke-linecap="round"/><polyline points="435.6,580 421.8,582.8" fill="none" stroke="#111" stroke-width="1.3" stroke-linejoin="round" stroke-linecap="round"/><polyline points="427,577.5 421.8,582.8 428.5,587" fill="none" stroke="#111" stroke-width="1.3" stroke-linejoin="round" stroke-linecap="round"/><ellipse cx="492.6" cy="493.8" rx="6.8" ry="6.3" fill="none" stroke="#111" stroke-width="1.3"/><path d="M487.7,501.4 L489.4,526 Q490,528.2 492,528 L497.5,527.8 Q499.6,527.8 499.6,525.5 L497.6,500.6" fill="none" stroke="#111" stroke-width="1.3" stroke-linejoin="round"/><polyline points="492.6,528 492.8,535.2" fill="none" stroke="#111" stroke-width="1.2" stroke-linejoin="round" stroke-linecap="round"/><polyline points="497.4,528 497.8,535.2" fill="none" stroke="#111" stroke-width="1.2" stroke-linejoin="round" stroke-linecap="round"/><ellipse cx="514" cy="495.2" rx="6.9" ry="7.3" fill="none" stroke="#111" stroke-width="1.3"/><path d="M510.3,504.7 L511,526 Q511.3,527.8 513.5,527.8 L519.5,527.6 Q521.4,527.6 521.4,525.5 L520.2,503.9" fill="none" stroke="#111" stroke-width="1.3" stroke-linejoin="round"/><polyline points="514.4,528 514.4,535.2" fill="none" stroke="#111" stroke-width="1.2" stroke-linejoin="round" stroke-linecap="round"/><polyline points="518.6,528 518.9,535.2" fill="none" stroke="#111" stroke-width="1.2" stroke-linejoin="round" stroke-linecap="round"/><polyline points="492.2,512.5 474.9,500.2 476.5,496.5" fill="none" stroke="#111" stroke-width="1.2" stroke-linejoin="round" stroke-linecap="round"/><polyline points="485.6,502.2 477.4,496.5" fill="none" stroke="#111" stroke-width="1.2" stroke-linejoin="round" stroke-linecap="round"/><polyline points="512.8,510.5 500.5,506.3 503,504.5" fill="none" stroke="#111" stroke-width="1.2" stroke-linejoin="round" stroke-linecap="round"/><polyline points="521.4,507.2 530,517 540,527 549.2,535" fill="none" stroke="#111" stroke-width="1.2" stroke-linejoin="round" stroke-linecap="round"/><polyline points="491.2,492 491.2,495" fill="none" stroke="#111" stroke-width="0.9" stroke-linejoin="round" stroke-linecap="round"/><polyline points="494,492 494,495" fill="none" stroke="#111" stroke-width="0.9" stroke-linejoin="round" stroke-linecap="round"/><polyline points="491,497.8 493.6,497.8" fill="none" stroke="#111" stroke-width="0.9" stroke-linejoin="round" stroke-linecap="round"/><polyline points="513.2,493 513.2,496" fill="none" stroke="#111" stroke-width="0.9" stroke-linejoin="round" stroke-linecap="round"/><polyline points="515.6,493 515.6,496" fill="none" stroke="#111" stroke-width="0.9" stroke-linejoin="round" stroke-linecap="round"/><polyline points="512.8,499 515.8,499" fill="none" stroke="#111" stroke-width="0.9" stroke-linejoin="round" stroke-linecap="round"/><polyline points="175.4,229.3 183,231 201.4,239.1 211.2,242.9 220.9,248.8 230.7,257.5 243.7,266.2 256.7,271.6 270.8,279.2 279,288" fill="none" stroke="#333" stroke-width="0.75"/><polyline points="218.8,238.5 230.7,248.3 248,260.8 258.8,268.3 275,281.3" fill="none" stroke="#333" stroke-width="0.75"/><polyline points="237.2,258.6 252.3,265.1 267.5,271.6 278.3,277 291.3,284" fill="none" stroke="#333" stroke-width="0.75"/><path d="M412,101 L416,99.5 L419,103 L423,108 L421,111 L417,108 L414,105 Z" fill="#222"/><circle cx="388.5" cy="98.5" r="0.5" fill="#333"/><circle cx="393" cy="99.5" r="0.45" fill="#333"/><circle cx="396.5" cy="99.5" r="0.45" fill="#333"/><circle cx="401" cy="99.8" r="0.4" fill="#333"/><circle cx="410.5" cy="98" r="0.5" fill="#333"/><circle cx="655.9" cy="412.7" r="0.8" fill="#333"/><circle cx="695.3" cy="349.3" r="0.7" fill="#333"/><circle cx="293.5" cy="331.5" r="0.5" fill="#333"/><circle cx="709" cy="368" r="0.5" fill="#333"/>
<path d="M 339.00,427.40 L 339.00,413.62 C 344.02,413.28 344.02,420.43 339.00,419.61 M 345.61,419.20 L 345.61,424.12 C 345.61,427.81 349.30,427.81 349.57,424.53 M 349.57,419.20 L 349.67,427.40 M 353.00,413.62 L 353.11,427.40 M 356.97,413.62 L 357.07,427.40 M 360.51,423.30 L 364.37,422.89 C 364.37,418.85 360.40,418.50 360.40,423.30 C 360.40,427.81 363.31,427.81 364.37,426.17 M 367.27,419.20 L 369.39,427.40 M 371.50,419.20 L 368.33,433.55" fill="none" stroke="#111" stroke-width="1.35" stroke-linecap="round" stroke-linejoin="round"/><path d="M 318.86,463.10 L 318.98,474.80 M 317.00,467.20 L 321.03,467.06 M 324.13,467.20 L 324.13,474.80 M 324.13,470.62 C 325.06,467.58 326.61,466.86 328.16,467.58 M 331.88,467.20 L 331.88,474.80 M 331.26,464.12 L 332.50,465.28 M 332.50,464.12 L 331.26,465.28 M 335.91,467.20 L 335.91,480.50 M 335.91,470.24 C 336.53,466.52 340.86,466.52 340.86,471.00 C 340.86,475.18 336.53,475.18 335.91,472.52 M 346.75,467.20 C 349.98,467.20 349.98,474.80 346.75,474.80 C 343.53,474.80 343.53,467.20 346.75,467.20 Z M 357.29,461.73 L 357.41,474.80 M 357.29,470.24 C 356.05,466.52 352.33,467.20 352.33,471.00 C 352.33,475.18 356.05,475.18 357.29,472.52" fill="none" stroke="#111" stroke-width="1.35" stroke-linecap="round" stroke-linejoin="round"/><path d="M 478.70,440.10 L 480.73,447.30 M 482.76,440.10 L 479.71,452.70 M 487.32,440.10 C 489.96,440.10 489.96,447.30 487.32,447.30 C 484.68,447.30 484.68,440.10 487.32,440.10 Z M 491.89,440.10 L 491.89,444.42 C 491.89,447.66 495.44,447.66 495.69,444.78 M 495.69,440.10 L 495.79,447.30 M 507.61,442.26 C 506.59,439.63 503.55,440.10 503.55,444.06 C 503.55,447.66 506.59,447.66 507.61,444.78 M 507.61,440.10 L 507.71,447.30 M 510.40,440.10 L 510.40,447.30 M 510.40,442.98 C 511.16,439.63 514.20,439.63 514.20,443.70 L 514.20,447.30 M 521.05,432.61 L 521.15,447.30 M 521.05,442.98 C 520.03,439.16 516.99,440.10 516.99,443.70 C 516.99,447.66 520.03,447.66 521.05,445.14" fill="none" stroke="#111" stroke-width="1.35" stroke-linecap="round" stroke-linejoin="round"/><path d="M 475.70,452.50 L 477.67,459.30 M 479.64,452.50 L 476.68,464.40 M 484.06,452.50 C 486.62,452.50 486.62,459.30 484.06,459.30 C 481.51,459.30 481.51,452.50 484.06,452.50 Z M 488.49,452.50 L 488.49,456.58 C 488.49,459.64 491.94,459.64 492.18,456.92 M 492.18,452.50 L 492.28,459.30 M 494.89,452.50 L 494.89,459.30 M 494.89,455.56 C 495.63,452.84 496.86,452.13 498.09,452.84 M 505.96,459.30 L 505.96,448.01 L 508.91,447.64 M 505.96,453.18 L 508.17,453.18 M 511.37,452.50 L 511.37,459.30 M 511.37,455.56 C 512.11,452.84 513.34,452.13 514.57,452.84 M 517.52,452.50 L 517.52,459.30 M 517.03,449.13 L 518.01,450.41 M 518.01,449.13 L 517.03,450.41 M 520.82,455.90 L 524.41,455.56 C 524.41,452.13 520.72,451.75 520.72,455.90 C 520.72,459.64 523.43,459.64 524.41,458.28 M 527.12,452.50 L 527.12,459.30 M 527.12,455.22 C 527.86,452.13 530.81,452.13 530.81,455.90 L 530.81,459.30 M 537.45,446.52 L 537.55,459.30 M 537.45,455.22 C 536.47,451.75 533.51,452.50 533.51,455.90 C 533.51,459.64 536.47,459.64 537.45,457.26 M 543.35,453.52 C 542.62,452.13 540.40,452.13 540.40,454.20 C 540.40,456.24 543.35,455.56 543.35,457.60 C 543.35,459.64 540.89,459.64 540.16,458.28" fill="none" stroke="#111" stroke-width="1.35" stroke-linecap="round" stroke-linejoin="round"/><path d="M 444.09,575.00 L 440.33,575.00 L 440.01,579.40 C 442.84,578.30 444.72,580.50 444.40,582.15 C 444.09,585.17 440.95,585.17 439.70,583.80 M 450.36,575.00 C 453.81,575.00 453.81,584.90 450.36,584.90 C 446.91,584.90 446.91,575.00 450.36,575.00 Z M 456.00,575.00 L 456.00,584.90 M 461.02,575.00 L 456.13,580.50 L 461.33,584.90 M 469.49,581.60 C 468.23,578.85 464.47,579.40 464.47,581.88 C 464.47,584.35 468.23,584.35 469.49,582.70 M 469.49,579.40 L 469.49,586.82 C 469.49,589.02 465.72,589.30 464.78,587.65" fill="none" stroke="#111" stroke-width="1.35" stroke-linecap="round" stroke-linejoin="round"/><path d="M 445.77,595.25 C 444.61,593.92 441.70,594.30 441.70,597.45 C 441.70,600.92 444.61,600.92 445.77,599.65 M 448.79,588.25 L 448.79,600.60 M 448.79,596.82 C 449.96,593.92 453.15,593.92 453.15,597.45 L 453.15,600.60 M 456.93,594.30 L 456.93,600.60 M 456.35,590.90 L 457.51,592.18 M 457.51,590.90 L 456.35,592.18 M 464.49,595.25 C 463.62,593.92 461.00,593.92 461.00,595.88 C 461.00,597.76 464.49,597.13 464.49,599.02 C 464.49,600.92 461.58,600.92 460.71,599.65 M 467.80,597.45 L 472.05,597.13 C 472.05,593.92 467.69,593.54 467.69,597.45 C 467.69,600.92 470.89,600.92 472.05,599.65 M 475.83,588.25 L 475.94,600.60" fill="none" stroke="#111" stroke-width="1.35" stroke-linecap="round" stroke-linejoin="round"/>
</svg>
</body></html>
